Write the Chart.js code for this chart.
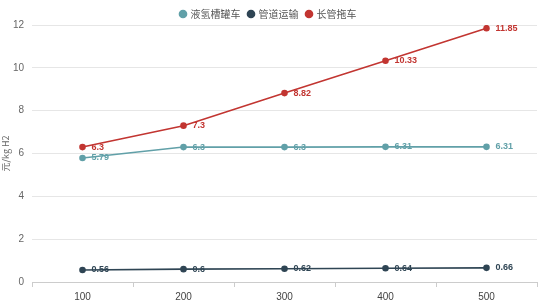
<!DOCTYPE html>
<html>
<head>
<meta charset="utf-8">
<script src="https://cdn.jsdelivr.net/npm/chart.js@4/dist/chart.umd.min.js"></script>
<style>
  html, body { margin: 0; padding: 0; background: #fff; }
  #wrap { width: 547px; height: 302px; }
</style>
</head>
<body>
<div id="wrap"><canvas id="c" width="547" height="302"></canvas></div>
<script>
const categories = ['100', '200', '300', '400', '500'];
const tanker = [5.79, 6.3, 6.3, 6.31, 6.31];
const pipeline = [0.56, 0.6, 0.62, 0.64, 0.66];
const tubeTrailer = [6.3, 7.3, 8.82, 10.33, 11.85];
const seriesNames = ['液氢槽罐车', '管道运输', '长管拖车'];
const colors = ['#61a0a8', '#2f4554', '#c23531'];

// value labels to the right of each point
const pointLabels = {
  id: 'pointLabels',
  afterDatasetsDraw(chart) {
    const ctx = chart.ctx;
    ctx.save();
    ctx.font = 'bold 9px "Liberation Sans", Arial, sans-serif';
    ctx.textAlign = 'left';
    ctx.textBaseline = 'middle';
    chart.data.datasets.forEach((ds, i) => {
      const meta = chart.getDatasetMeta(i);
      meta.data.forEach((pt, j) => {
        ctx.fillStyle = ds.borderColor;
        ctx.fillText(ds.data[j], pt.x + 9, pt.y);
      });
    });
    ctx.restore();
  }
};

const mk = (label, data, col) => ({
  label: label,
  data: data,
  borderColor: col,
  backgroundColor: col,
  borderWidth: 1.6,
  pointRadius: 2.5,
  pointHoverRadius: 3,
  tension: 0
});

const chart = new Chart(document.getElementById('c').getContext('2d'), {
  type: 'line',
  data: {
    labels: categories,
    datasets: [
      mk(seriesNames[0], tanker, colors[0]),
      mk(seriesNames[1], pipeline, colors[1]),
      mk(seriesNames[2], tubeTrailer, colors[2])
    ]
  },
  options: {
    responsive: false,
    animation: false,
    layout: { padding: { left: 0, right: 10, top: 1, bottom: 0 } },
    plugins: {
      legend: {
        position: 'top',
        labels: {
          usePointStyle: true,
          pointStyle: 'circle',
          boxWidth: 5,
          boxHeight: 5,
          padding: 8,
          color: '#555',
          font: { size: 10, family: '"Noto Sans CJK SC", sans-serif' }
        }
      },
      tooltip: { enabled: false }
    },
    scales: {
      x: {
        offset: true,
        afterFit(s) { s.height = 20; },
        grid: { display: true, offset: true, drawOnChartArea: false, drawTicks: true, tickLength: 5, color: '#ccc' },
        border: { display: true, color: '#ccc' },
        ticks: { color: '#444', font: { size: 10, family: '"Liberation Sans", Arial' }, padding: 4 }
      },
      y: {
        min: 0,
        max: 12,
        afterFit(s) { s.width = 32; },
        ticks: { stepSize: 2, color: '#666', font: { size: 10, family: '"Liberation Sans", Arial' }, padding: 8 },
        grid: { color: '#e6e6e6', drawTicks: false },
        border: { display: false },
        title: { display: true, text: '元/kg H2', color: '#666', font: { size: 9, family: '"Noto Sans CJK SC", sans-serif' }, padding: 0 }
      }
    }
  },
  plugins: [pointLabels]
});

// legend block height tuned so the plot starts near the top
const legendFit = chart.legend.fit.bind(chart.legend);
chart.legend.fit = function () {
  legendFit();
  this.height = 24;
};
chart.update();
</script>
</body>
</html>
